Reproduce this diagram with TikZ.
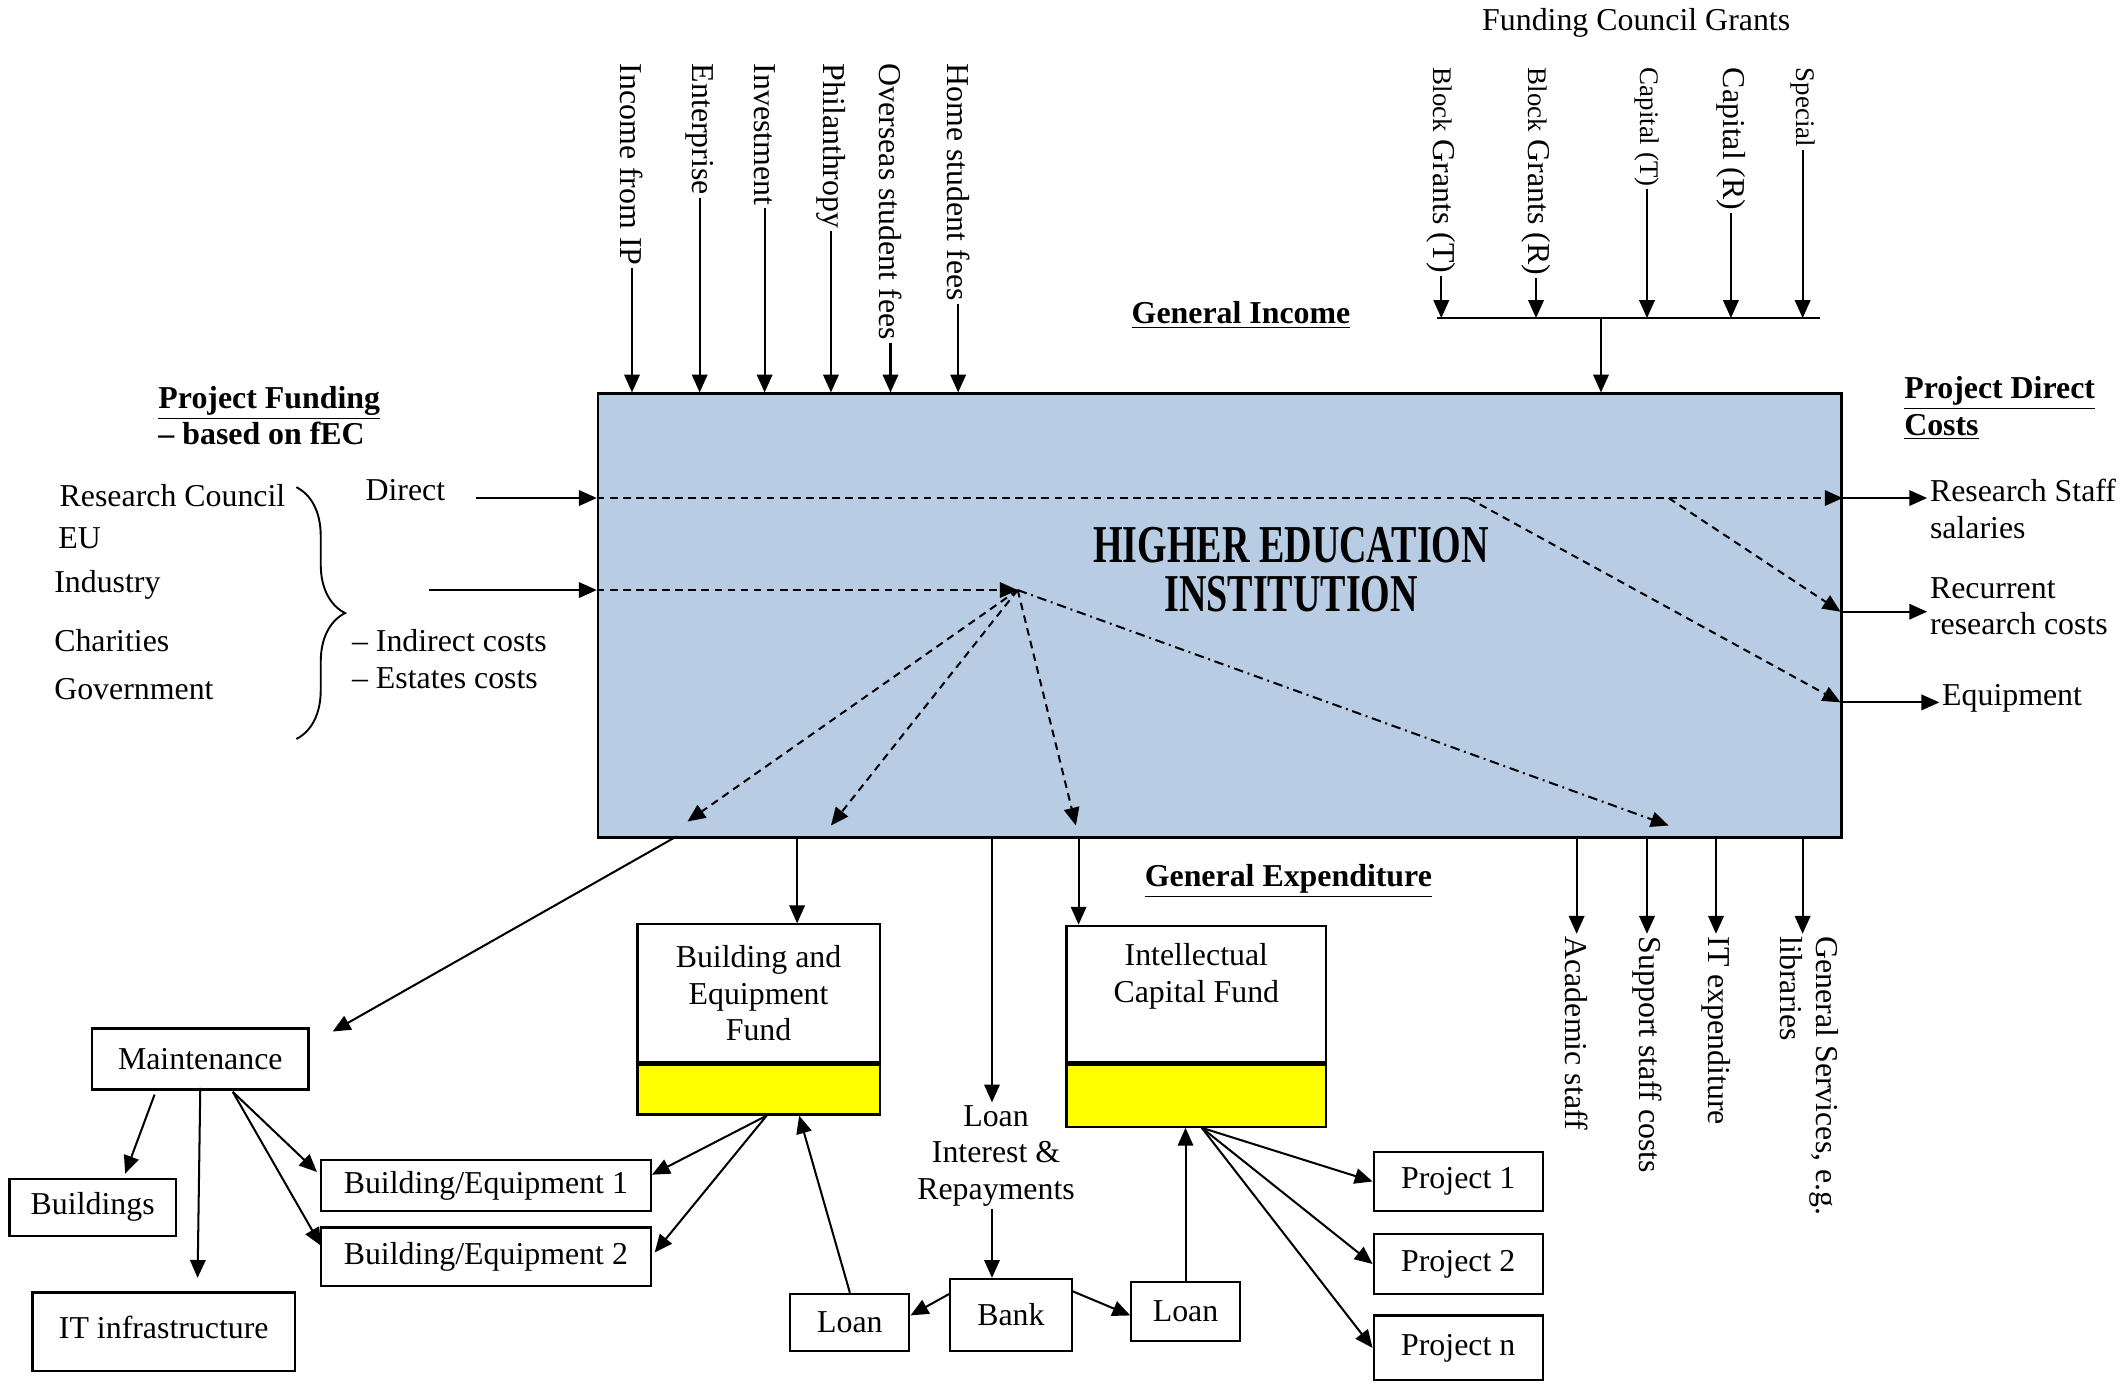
\documentclass[tikz,border=0pt]{standalone}
\usepackage{fontspec}
\setmainfont{Liberation Serif}
\usetikzlibrary{arrows.meta,positioning,calc,decorations.pathreplacing}
\definecolor{heiblue}{HTML}{B8CCE4}
\definecolor{fundyellow}{HTML}{FFFF00}
\newcommand{\bodyfont}{\fontsize{13.4pt}{15.4pt}\selectfont}
\newcommand{\minorfont}{\fontsize{11.3pt}{13pt}\selectfont}
\tikzset{
  heibox/.style={draw, line width=1pt, fill=heiblue},
  titletext/.style={font=\fontsize{16pt}{20.5pt}\selectfont\bfseries, align=center},
  itembox/.style={draw, line width=0.9pt, fill=white, align=center, inner sep=2pt},
  potbox/.style={draw, line width=0.9pt, fill=fundyellow},
  arrow/.style={-{Triangle[length=7.5pt,width=6.5pt]}, line width=0.85pt},
  dasharrow/.style={arrow, dash pattern=on 3.2pt off 2.3pt},
  dotarrow/.style={arrow, dash pattern=on 4pt off 2pt on 0.8pt off 2pt},
  vlabel/.style={rotate=-90, anchor=west, inner sep=1pt},
  txt/.style={inner sep=1pt, align=left},
  heading/.style={font=\bodyfont\bfseries, inner sep=1pt, align=left}
}

\begin{document}
\begin{tikzpicture}[x=0.02cm, y=-0.02cm, font=\bodyfont]
\useasboundingbox (0,0) rectangle (1568,1022);

% the institution
\node[heibox, minimum width=18.38cm, minimum height=6.56cm, anchor=north west] (hei) at (441,290) {};
\node[titletext] (title) at (954,421) {\scalebox{1}[1.4]{HIGHER EDUCATION}\\\scalebox{1}[1.4]{INSTITUTION}};

% general income
\node[heading] (ginc) at (917,233) {\underline{General Income}};
\foreach \name/\x/\t in {ip/467/Income from IP, ent/517/Enterprise, inv/565/Investment,
    phil/614/Philanthropy, ovs/658/Overseas student fees, home/708/Home student fees} {
  \node[vlabel] (\name) at (\x,45) {\t};
  \draw[arrow] (\name.east) -- (\name.east |- hei.north);
}

% funding council grants
\node (fcg) at (1209,17) {Funding Council Grants};
\coordinate (fcl) at (1062,235);
\coordinate (fcr) at (1345,235);
\coordinate (fcm) at (1183,235);
\foreach \name/\x/\t in {bgt/1065/{{\minorfont Block} Grants (T)}, bgr/1135/{{\minorfont Block} Grants (R)},
    capt/1217/{{\minorfont Capital (T)}}, capr/1279/Capital (R), spec/1332/{{\minorfont Special}}} {
  \node[vlabel] (\name) at (\x,48) {\t};
  \draw[arrow] (\name.east) -- (\name.east |- fcl);
}
\draw[line width=0.85pt] (fcl) -- (fcr);
\draw[arrow] (fcm) -- (fcm |- hei.north);

% project funding
\node[heading, anchor=west] (pfund) at (115,307) {\underline{Project Funding}\\-- based on fEC};
\foreach \name/\x/\y/\t in {rc/42/366/Research Council, eu/41/398/EU, ind/38/432/Industry,
    chr/38/473/Charities, gov/38/509/Government}
  \node[txt, anchor=west] (\name) at (\x,\y) {\t};
\draw[line width=0.8pt, decorate, decoration={brace, amplitude=0.72cm}] (219,360) -- (219,546);
\node[txt, anchor=west] (direct) at (268,362) {Direct};
\node[txt, anchor=west] (indirect) at (258,487) {-- Indirect costs\\-- Estates costs};
\coordinate (dirin) at (352,368);
\coordinate (indin) at (317,436);
\draw[arrow] (dirin) -- (dirin -| hei.west);
\draw[arrow] (indin) -- (indin -| hei.west);

% project direct costs
\node[heading, anchor=north west] (pdc) at (1405,276) {\underline{Project Direct}\\\underline{Costs}};
\node[txt, anchor=west] (rss) at (1424,376) {Research Staff\\salaries};
\node[txt, anchor=west] (rrc) at (1424,448) {Recurrent\\research costs};
\node[txt, anchor=west] (eqp) at (1433,516) {Equipment};
\coordinate (rcin) at (1360,452);
\coordinate (eqin) at (1360,519);
\coordinate (split1) at (1085,368);
\coordinate (split2) at (1233,368);
\draw[dasharrow] (dirin -| hei.west) -- (dirin -| hei.east);
\draw[dasharrow] (split1) -- (eqin);
\draw[dasharrow] (split2) -- (rcin);
\draw[arrow] (dirin -| hei.east) -- (dirin -| rss.west);
\draw[arrow] (rcin) -- (rcin -| rrc.west);
\draw[arrow] (eqin) -- (eqin -| eqp.west);

% indirect flows
\coordinate (hub) at (752,436);
\coordinate (fanA) at (508,607);
\coordinate (fanB) at (614,610);
\coordinate (fanC) at (795,610);
\coordinate (fanD) at (1233,610);
\draw[dasharrow] (indin -| hei.west) -- (hub);
\foreach \c in {fanA,fanB,fanC}
  \draw[dasharrow] (hub) -- (\c);
\draw[dotarrow] (hub) -- (fanD);

% general expenditure
\node[heading] (gexp) at (952,651) {\underline{General Expenditure}};
\foreach \name/\x in {omaint/500, obef/589, oloan/733, oicf/797, oacad/1165, osupp/1217, oit/1268, ogen/1332}
  \coordinate (\name) at (\x,618);
\foreach \name/\src/\t in {acad/oacad/Academic staff, supp/osupp/Support staff costs, itex/oit/IT expenditure} {
  \node[vlabel] (\name) at ($(\src)+(0,72)$) {\t};
  \draw[arrow] (\src) -- (\name.west);
}
\node[vlabel, align=left] (gen) at (1337,690) {General Services, e.g.\\libraries};
\draw[arrow] (ogen) -- (ogen |- gen.west);

% funds
\node[itembox, minimum width=3.58cm, minimum height=2.04cm] (bef) at (560.5,734) {Building and\\Equipment\\Fund};
\node[potbox, minimum width=3.58cm, minimum height=0.74cm, below=0pt of bef] (befpot) {};
\node[itembox, minimum width=3.84cm, minimum height=2.02cm,
  label={[align=center, anchor=north, yshift=-0.16cm]north:Intellectual\\Capital Fund}] (icf) at (884,734.5) {};
\node[potbox, minimum width=3.84cm, minimum height=0.92cm, below=0pt of icf] (icfpot) {};
\draw[arrow] (obef) -- (obef |- bef.north);
\draw[arrow] (oicf) -- (oicf |- icf.north);

% loans
\node[txt, align=center] (repay) at (736,854) {Loan\\Interest \&\\Repayments};
\node[itembox, minimum width=1.8cm, minimum height=1.06cm] (bank) at (747,971.5) {Bank};
\node[itembox, minimum width=1.76cm, minimum height=0.84cm] (loanl) at (628,977) {Loan};
\node[itembox, minimum width=1.6cm, minimum height=0.88cm] (loanr) at (876,969) {Loan};
\draw[arrow] (oloan) -- (oloan |- repay.north);
\draw[arrow] (repay.south -| oloan) -- (oloan |- bank.north);
\draw[arrow] ($(bank.north west)+(0,12)$) -- ($(loanl.east)+(0,-5)$);
\draw[arrow] ($(bank.north east)+(0,10)$) -- ($(loanr.west)+(0,3)$);
\draw[arrow] (loanl.north) -- ($(befpot.south)+(30,0)$);
\draw[arrow] (loanr.north) -- (loanr.north |- icfpot.south);

% projects
\node[itembox, minimum width=2.5cm, minimum height=0.88cm] (p1) at (1077.5,873) {Project 1};
\node[itembox, minimum width=2.5cm, minimum height=0.88cm] (p2) at (1077.5,934) {Project 2};
\node[itembox, minimum width=2.5cm, minimum height=0.96cm] (pn) at (1077.5,996) {Project n};
\foreach \p in {p1,p2,pn}
  \draw[arrow] ($(icfpot.south)+(4,0)$) -- (\p.west);

% maintenance
\node[itembox, minimum width=3.2cm, minimum height=0.9cm] (maint) at (148,782.5) {Maintenance};
\node[itembox, minimum width=2.46cm, minimum height=0.84cm] (bldg) at (68.5,892) {Buildings};
\node[itembox, minimum width=3.88cm, minimum height=1.16cm] (itinf) at (121,984) {\raisebox{0.14cm}{IT infrastructure}};
\node[itembox, minimum width=4.88cm, minimum height=0.76cm] (be1) at (359,876) {Building/Equipment 1};
\node[itembox, minimum width=4.88cm, minimum height=0.86cm] (be2) at (359,928.5) {Building/Equipment 2};
\draw[arrow] (omaint) -- ($(maint.north east)+(17,3)$);
\draw[arrow] ($(maint.south west)+(47,3)$) -- ($(bldg.north)+(24,-3)$);
\draw[arrow] ($(maint.south)+(0,-2)$) -- ($(itinf.north)+(25,-10)$);
\draw[arrow] ($(maint.south)+(24,1)$) -- ($(be1.west)+(-2,-10)$);
\draw[arrow] ($(maint.south)+(24,1)$) -- ($(be2.west)+(1,-8)$);
\draw[arrow] ($(befpot.south)+(6,0)$) -- ($(be1.east)+(0,-8)$);
\draw[arrow] ($(befpot.south)+(6,0)$) -- ($(be2.east)+(2,-3)$);
\end{tikzpicture}
\end{document}
